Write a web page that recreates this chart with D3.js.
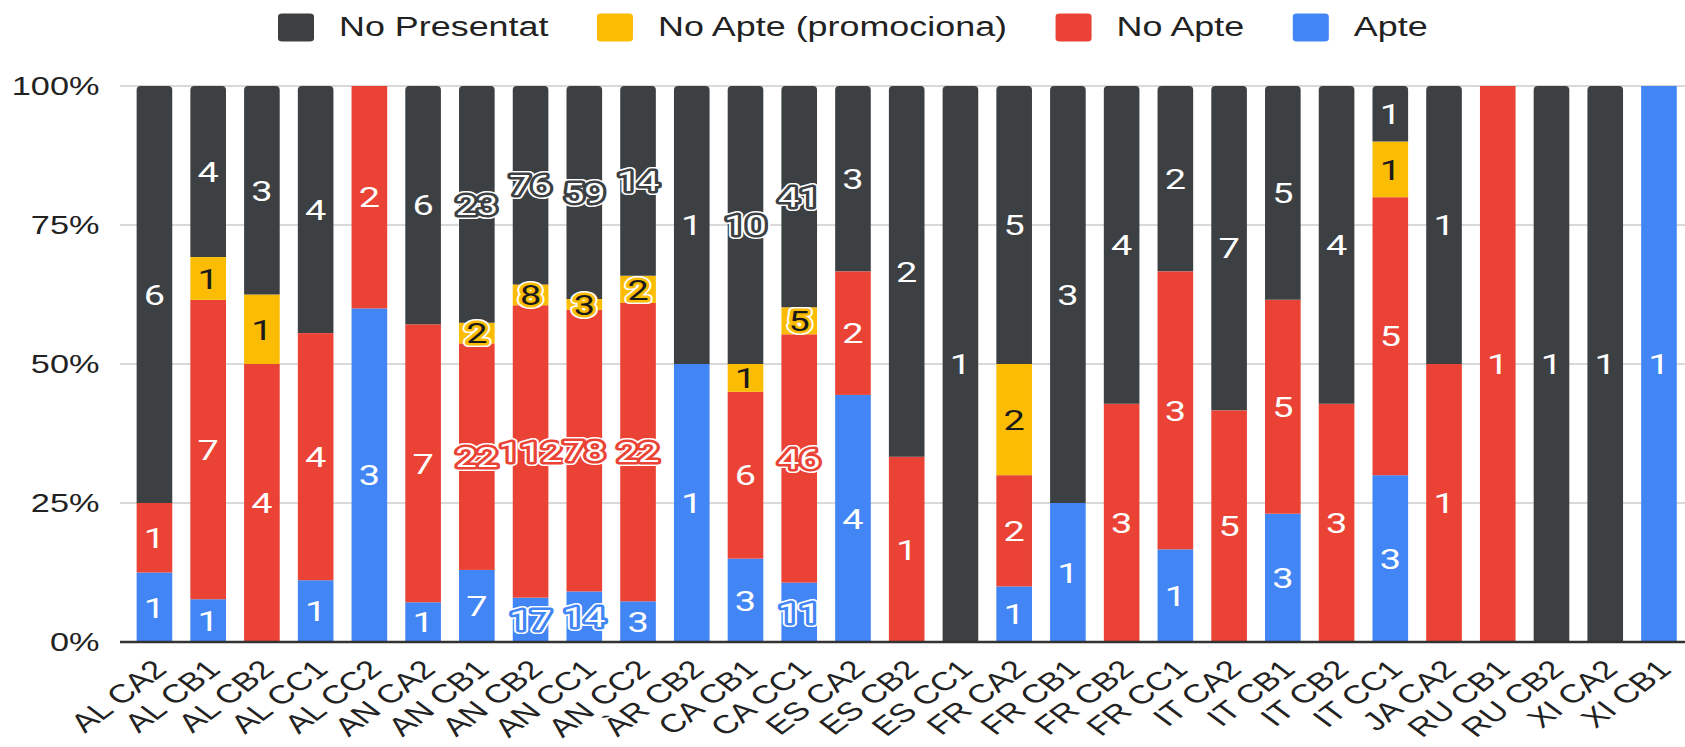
<!DOCTYPE html>
<html><head><meta charset="utf-8">
<script src="https://cdn.jsdelivr.net/npm/d3@7"></script>
<style>
body{margin:0;background:#fff;}
svg{display:block;}
</style></head><body>
<svg id="chart" width="1685" height="747"></svg>
<script>
const categories = ["AL CA2","AL CB1","AL CB2","AL CC1","AL CC2","AN CA2","AN CB1","AN CB2","AN CC1","AN CC2","ÀR CB2","CA CB1","CA CC1","ES CA2","ES CB2","ES CC1","FR CA2","FR CB1","FR CB2","FR CC1","IT CA2","IT CB1","IT CB2","IT CC1","JA CA2","RU CB1","RU CB2","XI CA2","XI CB1"];
const apte        = [1,1,0,1,3,1,7,17,14,3,1,3,11,4,0,0,1,1,0,1,0,3,0,3,0,0,0,0,1];
const noApte      = [1,7,4,4,2,7,22,112,78,22,0,6,46,2,1,0,2,0,3,3,5,5,3,5,1,1,0,0,0];
const noApteProm  = [0,1,1,0,0,0,2,8,3,2,0,1,5,0,0,0,2,0,0,0,0,0,0,1,0,0,0,0,0];
const noPresentat = [6,4,3,4,0,6,23,76,59,14,1,10,41,3,2,1,5,3,4,2,7,5,4,1,1,0,1,1,0];
const seriesKeys  = ["Apte","No Apte","No Apte (promociona)","No Presentat"];
const legendOrder = ["No Presentat","No Apte (promociona)","No Apte","Apte"];
const yTicks      = [0,0.25,0.5,0.75,1];

const colors = {"Apte":"#4285f4","No Apte":"#ea4335","No Apte (promociona)":"#fbbc04","No Presentat":"#3c4043"};
const labelColor = {"Apte":"#fff","No Apte":"#fff","No Apte (promociona)":"#1a1a1a","No Presentat":"#fff"};
const SX = 1.33; // horizontal stretch of the reference image

const rows = categories.map((c,i)=>({cat:c,"Apte":apte[i],"No Apte":noApte[i],"No Apte (promociona)":noApteProm[i],"No Presentat":noPresentat[i]}));
const stack = d3.stack().keys(seriesKeys).offset(d3.stackOffsetExpand);
const layers = stack(rows);

const svg = d3.select("#chart");
const x = d3.scaleBand().domain(categories).range([127.6,1685.8]).paddingInner(0.337).paddingOuter(0.168);
const y = d3.scaleLinear().domain([0,1]).range([642,86]);

// gridlines
svg.append("g").selectAll("line").data(yTicks.filter(t=>t>0)).join("line")
  .attr("x1",120).attr("x2",1685).attr("y1",d=>y(d)).attr("y2",d=>y(d))
  .attr("stroke","#cccccc").attr("stroke-width",1.6);

// y labels
const fmt = d3.format(".0%");
svg.append("g").selectAll("g").data(yTicks).join("g")
  .attr("transform",d=>`translate(99.5,${y(d)}) scale(${SX},1)`)
  .append("text").attr("text-anchor","end").attr("dy","0.36em")
  .attr("font-family","'Liberation Sans', Arial, sans-serif").attr("font-size",25.8).attr("fill","#222")
  .text(d=>fmt(d));

// bars
function roundTop(x0,y0,w,h,r){
  r=Math.min(r,h,w/2);
  return `M${x0},${y0+h}V${y0+r}Q${x0},${y0} ${x0+r},${y0}H${x0+w-r}Q${x0+w},${y0} ${x0+w},${y0+r}V${y0+h}Z`;
}
const bw = x.bandwidth();
layers.forEach(layer=>{
  const key = layer.key;
  const g = svg.append("g");
  layer.forEach((d,i)=>{
    const v = rows[i][key];
    if(!v) return;
    const x0 = x(categories[i]), y0 = y(d[1]), h = y(d[0])-y(d[1]);
    if(key==="No Presentat"){
      g.append("path").attr("d",roundTop(x0,y0,bw,h,4)).attr("fill",colors[key]);
    } else {
      g.append("rect").attr("x",x0).attr("y",y0).attr("width",bw).attr("height",h).attr("fill",colors[key]);
    }
  });
});

// baseline
svg.append("line").attr("x1",120).attr("x2",1685).attr("y1",642).attr("y2",642)
  .attr("stroke","#333").attr("stroke-width",2.5);

// data labels
const FS = 28.5;
layers.forEach(layer=>{
  const key = layer.key;
  layer.forEach((d,i)=>{
    const v = rows[i][key];
    if(!v) return;
    const cx = x(categories[i]) + bw/2;
    const cy = (y(d[0])+y(d[1]))/2;
    const h = y(d[0])-y(d[1]);
    const str = String(v);
    const estW = str.length*0.562*FS*SX;
    const halo = estW > bw-3 || h < 27.5;
    const g = svg.append("g").attr("transform",`translate(${cx},${cy}) scale(${SX},1)`);
    const base = t=>t.attr("text-anchor","middle").attr("dy","0.36em")
      .attr("font-family","Roboto, 'Noto Sans', sans-serif").attr("font-size",FS).text(str);
    if(halo){
      g.append("text").call(base).attr("fill","none").attr("stroke","#ffffff").attr("stroke-width",8).attr("stroke-linejoin","round");
      g.append("text").call(base).attr("fill","none").attr("stroke",colors[key]).attr("stroke-width",5).attr("stroke-linejoin","round");
    }
    g.append("text").call(base).attr("fill",labelColor[key]);
  });
});

// x labels
svg.append("g").selectAll("g").data(categories).join("g")
  .attr("transform",d=>`translate(${x(d)+bw/2+14},${671}) scale(${SX},1) rotate(-45)`)
  .append("text").attr("text-anchor","end")
  .attr("font-family","'Liberation Sans', Arial, sans-serif").attr("font-size",26).attr("fill","#222")
  .text(d=>d);

// legend
const lg = svg.append("g");
let lx = 278;
legendOrder.forEach(k=>{
  lg.append("rect").attr("x",lx).attr("y",13.5).attr("width",36).attr("height",28)
    .attr("rx",4).attr("ry",3).attr("fill",colors[k]);
  const tg = lg.append("g").attr("transform",`translate(${lx+61},${36}) scale(${SX},1)`);
  const t = tg.append("text").attr("font-family","'Liberation Sans', Arial, sans-serif")
    .attr("font-size",27).attr("fill","#222").text(k);
  const w = t.node().getComputedTextLength()*SX;
  lx = lx + 61 + w + 48.5;
});
</script>
</body></html>
